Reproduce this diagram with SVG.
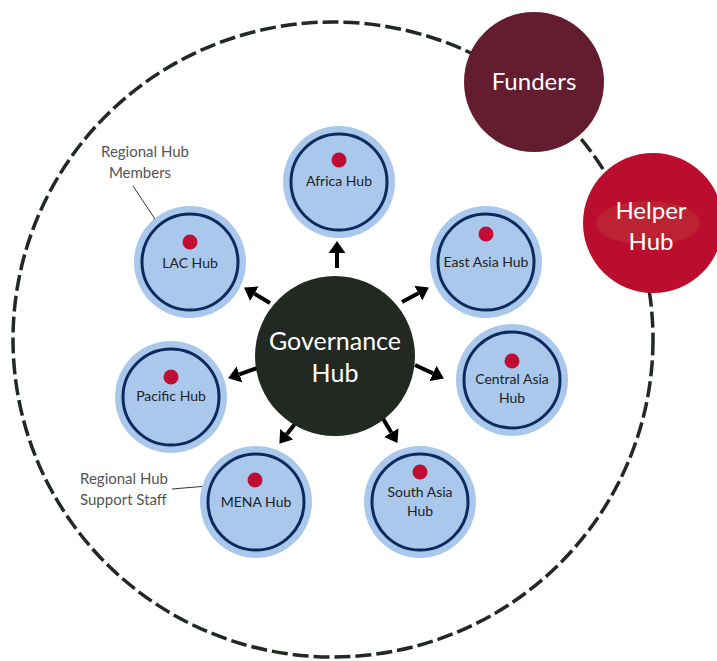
<svg xmlns="http://www.w3.org/2000/svg" width="717" height="661" viewBox="0 0 717 661">
<style>
.outer{fill:#a9c8ec}
.ring{fill:none;stroke:#0b2b5f;stroke-width:3}
.dot{fill:#c00d33}
.lbl{font-family:Lato,"Open Sans",sans-serif;font-size:14px;fill:#222;text-anchor:middle}
.note{font-family:Lato,"Open Sans",sans-serif;font-size:15px;fill:#555}
.big{font-family:Lato,"Open Sans",sans-serif;fill:#fff;text-anchor:middle}
.arr{stroke:#000;stroke-width:4;fill:none;marker-end:url(#ah)}
.thin{stroke:#333;stroke-width:1;fill:none;marker-end:url(#sh)}
</style>
<defs>
<marker id="ah" viewBox="0 0 10 14" refX="0" refY="7" markerWidth="3" markerHeight="4.4" orient="auto" markerUnits="strokeWidth"><path d="M0,0 L10,7 L0,14 z" fill="#000"/></marker>
<marker id="sh" viewBox="0 0 10 10" refX="9" refY="5" markerWidth="5" markerHeight="5" orient="auto" markerUnits="strokeWidth"><path d="M0,1 L10,5 L0,9 z" fill="#333"/></marker>
</defs>
<rect width="717" height="661" fill="#fff"/>
<ellipse id="boundary" cx="333" cy="339.5" rx="320" ry="317.5" fill="none" stroke="#222822" stroke-width="3.5" stroke-dasharray="16 5"/>
<g id="funders"><circle cx="534" cy="82" r="70" fill="#641c31"/><text class="big" x="534" y="90" font-size="24">Funders</text></g>
<g id="helper"><circle cx="653" cy="223" r="70" fill="#bb0e2f"/><ellipse cx="648" cy="223" rx="52" ry="22" fill="#bd2233"/><text class="big" x="651" y="219" font-size="24">Helper</text><text class="big" x="651" y="250" font-size="24">Hub</text></g>
<g id="connectors">
<line class="arr" x1="337" y1="268" x2="337" y2="253"/>
<line class="arr" x1="270" y1="303" x2="254.4" y2="293.7"/>
<line class="arr" x1="402" y1="302" x2="418.3" y2="293.2"/>
<line class="arr" x1="257" y1="368" x2="239.4" y2="374.3"/>
<line class="arr" x1="415" y1="365" x2="433" y2="373.4"/>
<line class="arr" x1="298" y1="420" x2="286.8" y2="434.3"/>
<line class="arr" x1="382" y1="417" x2="391.3" y2="432.6"/>
<line class="thin" x1="133" y1="186" x2="157" y2="222"/>
<line class="thin" x1="172" y1="489" x2="243" y2="483"/>
</g>
<g id="governance"><circle cx="335" cy="356" r="80" fill="#222822"/><text class="big" x="335" y="350" font-size="25">Governance</text><text class="big" x="335" y="382" font-size="25">Hub</text></g>
<g id="africa"><circle class="outer" cx="339" cy="182" r="56"/><circle class="ring" cx="339" cy="182" r="48"/><circle class="dot" cx="339" cy="160" r="7.5"/><text class="lbl" x="339" y="186">Africa Hub</text></g>
<g id="eastasia"><circle class="outer" cx="486" cy="262" r="56"/><circle class="ring" cx="486" cy="262" r="48"/><circle class="dot" cx="486" cy="234" r="7.5"/><text class="lbl" x="486" y="267">East Asia Hub</text></g>
<g id="centralasia"><circle class="outer" cx="512" cy="380" r="56"/><circle class="ring" cx="512" cy="380" r="48"/><circle class="dot" cx="512" cy="361" r="7.5"/><text class="lbl" x="512" y="384">Central Asia</text><text class="lbl" x="512" y="403">Hub</text></g>
<g id="southasia"><circle class="outer" cx="420" cy="502" r="56"/><circle class="ring" cx="420" cy="502" r="48"/><circle class="dot" cx="420" cy="472" r="7.5"/><text class="lbl" x="420" y="497">South Asia</text><text class="lbl" x="420" y="516">Hub</text></g>
<g id="mena"><circle class="outer" cx="256" cy="502" r="56"/><circle class="ring" cx="256" cy="502" r="48"/><circle class="dot" cx="255" cy="480" r="7.5"/><text class="lbl" x="256" y="507">MENA Hub</text></g>
<g id="pacific"><circle class="outer" cx="171" cy="397" r="56"/><circle class="ring" cx="171" cy="397" r="48"/><circle class="dot" cx="171" cy="377" r="7.5"/><text class="lbl" x="171" y="401">Pacific Hub</text></g>
<g id="lac"><circle class="outer" cx="190" cy="262" r="56"/><circle class="ring" cx="190" cy="262" r="48"/><circle class="dot" cx="190" cy="242" r="7.5"/><text class="lbl" x="190" y="268">LAC Hub</text></g>
<g id="notes">
<text class="note" x="145" y="157" text-anchor="middle">Regional Hub</text>
<text class="note" x="140" y="178" text-anchor="middle">Members</text>
<text class="note" x="80" y="484">Regional Hub</text>
<text class="note" x="80" y="505">Support Staff</text>
</g>
</svg>
